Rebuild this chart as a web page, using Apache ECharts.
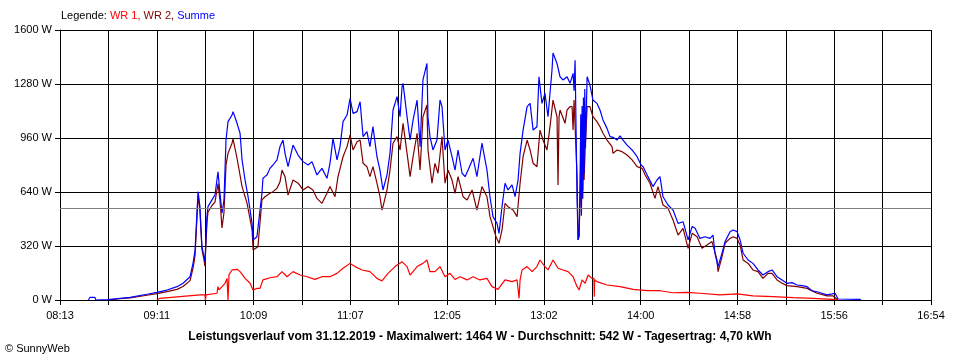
<!DOCTYPE html>
<html><head><meta charset="utf-8">
<script src="https://cdn.jsdelivr.net/npm/echarts@6/dist/echarts.min.js"></script>
<style>html,body{margin:0;padding:0;background:#fff}#c{width:960px;height:360px}</style>
</head><body><div id="c"></div>
<script>
// time axis: minutes after 08:13 (start of the plotted day window), end 16:54
const startMinute = 8 * 60 + 13;
const endOffset = 521;
const tickCount = 18;
const yTicks = [0, 320, 640, 960, 1280, 1600];
const averageW = 542;

// Summe (blue)
const sumT = [17.0,17.9,20.9,21.5,28.7,35.9,41.9,52.0,58.0,64.0,70.0,73.6,77.8,79.6,80.8,82.0,82.6,83.7,84.9,86.1,86.7,87.9,88.5,90.9,92.7,94.5,95.7,96.9,98.1,99.3,100.5,102.9,103.5,105.9,107.7,108.9,110.7,112.5,114.9,115.5,117.8,118.4,120.8,121.4,122.6,123.8,125.6,127.4,129.8,131.6,133.4,134.6,136.4,139.4,142.4,145.4,148.4,150.7,153.7,156.7,159.7,161.5,163.3,165.7,167.5,169.3,171.7,173.5,175.3,177.7,179.5,181.3,183.6,185.4,187.2,189.6,191.4,193.2,195.6,197.4,199.2,201.6,203.4,204.6,205.2,207.6,209.4,211.2,213.6,215.4,217.1,219.5,220.1,221.3,223.1,225.5,227.3,228.5,230.3,232.1,234.5,236.3,238.1,240.5,242.3,244.1,247.1,249.4,252.4,255.4,257.2,259.0,261.4,262.6,264.4,266.2,268.0,270.4,272.2,274.0,275.2,277.0,279.4,281.2,283.0,285.3,286.5,288.3,290.1,291.9,294.3,294.9,297.3,299.1,300.9,303.3,305.1,306.9,307.5,308.1,309.3,309.9,310.5,311.1,311.5,311.9,312.3,312.7,313.1,313.5,313.9,314.3,315.3,317.0,318.8,321.2,323.0,324.8,327.2,329.0,330.8,333.2,335.0,336.8,339.2,342.2,345.2,347.6,348.8,351.7,354.7,357.1,358.9,360.7,363.7,366.7,369.7,372.7,375.7,378.1,379.9,382.8,385.8,388.8,390.6,391.8,393.6,396.0,397.8,400.8,402.6,405.0,406.8,408.6,411.6,414.5,417.5,420.5,423.5,425.9,428.9,431.9,434.9,437.9,440.9,443.9,446.9,449.8,452.8,455.8,458.8,461.8,463.6,465.4,478.6,479.0];
const sumV = [0,15,15,0,2,10,16,34,45,59,79,99,138,219,296,533,642,553,316,257,227,494,553,593,622,760,632,514,593,948,1057,1096,1116,1047,988,830,711,612,454,356,375,375,632,721,731,741,780,800,830,909,948,869,790,918,859,820,800,820,741,780,721,810,958,830,909,1057,1096,1195,1106,1116,1175,968,998,909,1027,849,770,652,741,869,1126,1205,1086,1264,1284,1086,948,1067,1185,909,1304,1402,1086,968,889,948,1185,1146,889,948,849,770,889,751,731,770,840,731,929,770,612,494,454,395,553,692,652,682,612,711,869,1007,1146,1165,1007,1027,1323,1165,1225,1086,1363,1464,1402,1323,1304,1323,1284,1343,1240,1420,593,356,380,700,1100,500,1150,600,1200,750,1250,900,1323,1274,1185,1165,1126,1067,1017,968,964,948,972,948,918,889,849,800,790,731,672,711,731,612,563,533,454,464,356,435,425,365,375,365,385,277,198,277,346,405,415,405,356,277,237,217,178,148,168,178,138,119,99,103,89,85,79,55,49,40,30,36,40,6,4,0];

// WR 2 (dark red)
const wr2T = [28.7,35.9,41.9,52.0,58.0,64.0,70.0,73.6,77.8,79.6,80.8,82.0,82.6,83.7,84.9,86.1,86.7,87.9,88.5,90.9,92.7,94.5,95.7,96.9,98.1,99.3,100.5,102.9,103.5,105.9,108.9,111.9,114.9,115.5,118.4,120.8,122.6,125.6,127.4,129.8,131.6,132.8,134.6,136.4,139.4,142.4,145.4,148.4,151.3,153.7,156.7,159.7,161.5,164.5,166.3,169.3,171.7,173.5,175.3,177.7,179.5,181.3,183.6,185.4,187.2,189.6,191.4,192.6,193.2,195.6,197.4,199.2,201.6,203.4,205.2,207.6,209.4,211.2,213.6,215.4,217.1,219.5,220.1,222.5,224.3,226.1,228.5,230.3,232.1,234.5,236.3,238.1,241.1,243.5,246.5,249.4,252.4,255.4,257.2,259.0,260.8,262.6,264.4,266.2,268.0,271.0,273.4,275.2,277.0,279.4,281.2,283.0,285.3,287.1,288.9,291.3,293.1,294.9,297.3,297.9,298.5,299.1,302.1,303.3,305.1,306.3,306.9,307.5,309.3,309.9,310.5,311.1,311.5,311.9,312.3,312.7,313.1,313.5,314.1,315.3,317.0,318.8,321.2,323.0,324.8,327.2,330.2,330.8,333.2,336.2,339.2,342.2,345.2,348.2,350.0,352.9,355.9,357.7,360.7,363.7,366.7,369.7,372.7,375.7,378.1,381.1,384.0,387.0,390.0,393.0,393.6,396.0,397.8,400.8,402.6,405.0,406.8,408.6,411.6,414.5,417.5,420.5,423.5,425.9,428.9,431.9,434.9,440.9,446.9,452.8,458.8,462.4,465.4];
const wr2V = [0,8,12,28,38,50,63,80,115,190,265,500,620,530,300,240,200,460,520,560,580,690,590,427,520,800,869,929,955,840,672,573,415,296,316,593,612,632,642,662,700,770,731,622,711,692,652,672,652,602,573,632,672,612,731,849,909,978,889,938,948,810,790,731,790,692,612,533,553,652,770,929,968,889,1047,869,731,849,988,770,1086,1156,889,692,810,751,968,692,770,711,632,731,612,593,652,533,672,612,494,435,375,336,415,573,553,533,494,692,849,948,889,810,790,1007,948,889,1027,1185,1086,682,1086,1126,1047,1126,1146,1146,1007,1185,731,356,380,600,900,550,950,650,1000,711,889,1146,1146,1086,1057,1027,988,948,909,869,889,879,859,830,790,780,741,692,602,672,563,543,474,385,425,306,395,375,306,326,346,237,168,257,336,365,375,365,326,237,217,178,168,128,158,158,119,99,85,79,69,40,24,24,0];

// WR 1 (red)
const wr1T = [58.0,59.8,71.8,83.7,86.7,87.0,87.4,93.9,94.5,95.1,98.7,99.9,100.5,101.1,102.9,105.9,107.7,110.7,113.7,115.5,117.8,119.6,121.4,125.6,129.8,132.8,135.8,139.4,143.6,147.8,152.5,156.7,161.5,165.7,169.3,173.5,176.5,180.7,185.4,189.6,192.6,196.2,200.4,204.6,207.6,209.4,213.6,217.1,219.5,221.3,224.3,227.3,230.3,233.3,236.3,239.3,243.5,247.1,251.2,255.4,258.4,262.0,266.2,270.4,273.4,274.6,275.2,276.4,279.4,282.4,285.3,287.1,290.1,291.9,294.9,297.9,300.9,303.9,306.9,309.3,310.5,312.3,314.1,315.9,318.2,319.4,319.6,319.8,321.2,327.2,335.0,342.8,351.1,358.9,366.7,375.1,382.8,394.8,405.0,414.5,426.5,438.5,450.4,462.4,465.4];
const wr1V = [0,10,20,30,30,0,30,40,79,60,99,128,0,150,178,182,168,128,99,59,69,69,119,132,138,168,138,168,148,138,122,138,138,158,188,217,198,178,168,128,113,158,198,227,198,148,198,217,237,168,168,198,138,158,122,138,119,138,119,128,79,63,119,109,119,10,119,178,198,168,198,237,198,178,237,188,178,168,138,79,59,119,99,148,128,128,20,120,109,89,79,63,55,55,43,45,40,30,36,24,20,14,10,4,0];

function pairs(t, v) { return t.map((x, i) => [x, v[i]]); }
function fmtTime(v) {
  const step = endOffset / tickCount;
  const k = Math.round(v / step);
  if (k % 2 !== 0) return '';
  const m = Math.round(startMinute + v);
  const h = Math.floor(m / 60), mm = m % 60;
  return (h < 10 ? '0' : '') + h + ':' + (mm < 10 ? '0' : '') + mm;
}

const FONT = '"Liberation Sans", Arial, sans-serif';
const chart = echarts.init(document.getElementById('c'), null, {renderer: 'canvas'});
chart.setOption({
  animation: false,
  backgroundColor: '#ffffff',
  grid: {left: 60, right: 29, top: 30, bottom: 60},
  xAxis: {
    type: 'value', min: 0, max: endOffset, interval: endOffset / tickCount,
    axisLine: {show: true, lineStyle: {color: '#000', width: 1}},
    axisTick: {show: true, length: 5, lineStyle: {color: '#000'}},
    axisLabel: {formatter: fmtTime, color: '#000', fontFamily: FONT, fontSize: 11, margin: 10, showMinLabel: true, showMaxLabel: true},
    splitLine: {show: true, lineStyle: {color: '#000', width: 1}}
  },
  yAxis: {
    type: 'value', min: yTicks[0], max: yTicks[yTicks.length - 1], interval: yTicks[1] - yTicks[0],
    axisLine: {show: true, lineStyle: {color: '#000', width: 1}},
    axisTick: {show: true, length: 5, lineStyle: {color: '#000'}},
    axisLabel: {formatter: (v) => String(v) + ' W', color: '#000', fontFamily: FONT, fontSize: 11, margin: 8},
    splitLine: {show: true, lineStyle: {color: '#000', width: 1}}
  },
  series: [
    {name: 'WR 2', type: 'line', data: pairs(wr2T, wr2V), showSymbol: false, symbol: 'none',
     lineStyle: {color: '#800000', width: 1.2}, z: 3,
     markLine: {silent: true, symbol: 'none', label: {show: false},
       lineStyle: {color: '#808080', width: 1, type: 'solid'}, data: [{yAxis: averageW}]}},
    {name: 'Summe', type: 'line', data: pairs(sumT, sumV), showSymbol: false, symbol: 'none',
     lineStyle: {color: '#0000ff', width: 1.2}, z: 4},
    {name: 'WR 1', type: 'line', data: pairs(wr1T, wr1V), showSymbol: false, symbol: 'none',
     lineStyle: {color: '#ff0000', width: 1.2}, z: 5}
  ],
  graphic: [
    {type: 'text', left: 61, top: 10, style: {
      text: '{k|Legende: }{a|WR 1, }{b|WR 2, }{c|Summe}',
      rich: {
        k: {fill: '#000', fontFamily: FONT, fontSize: 11},
        a: {fill: '#ff0000', fontFamily: FONT, fontSize: 11},
        b: {fill: '#800000', fontFamily: FONT, fontSize: 11},
        c: {fill: '#0000ff', fontFamily: FONT, fontSize: 11}
      }}},
    {type: 'text', x: 480, y: 337, style: {
      text: 'Leistungsverlauf vom 31.12.2019 - Maximalwert: 1464 W - Durchschnitt: 542 W - Tagesertrag: 4,70 kWh',
      fill: '#000', fontFamily: FONT, fontSize: 12, fontWeight: 'bold', align: 'center', verticalAlign: 'middle'}},
    {type: 'text', x: 5, y: 349, style: {
      text: '© SunnyWeb', fill: '#000', fontFamily: FONT, fontSize: 11, align: 'left', verticalAlign: 'middle'}}
  ]
});
</script>
</body></html>
